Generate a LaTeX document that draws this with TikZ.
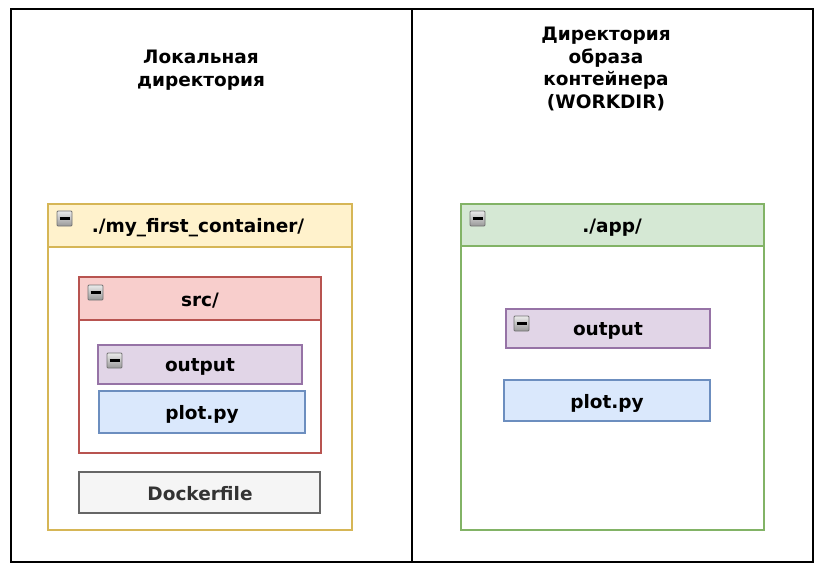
\documentclass[tikz,border=0pt]{standalone}
\usepackage{fontspec}
\setmainfont{DejaVu Sans}
\begin{document}
\begin{tikzpicture}[x=1pt,y=-1pt,
  lbl/.style={font=\bfseries\fontsize{18.5}{22.7}\selectfont,text=black,align=center},
  outerbox/.style={draw=black,line width=1.6pt},
  cont/.style={line width=1.5pt},
  leaf/.style={line width=1.5pt},
  yel/.style={fill=yelF,draw=yelD},
  red/.style={fill=redF,draw=redD},
  pur/.style={fill=purF,draw=purD},
  blu/.style={fill=bluF,draw=bluD},
  gre/.style={fill=greF,draw=greD},
  gry/.style={fill=gryF,draw=gryD}
]
\definecolor{yelF}{HTML}{FFF2CC}\definecolor{yelD}{HTML}{D6B656}
\definecolor{redF}{HTML}{F8CECC}\definecolor{redD}{HTML}{B85450}
\definecolor{purF}{HTML}{E1D5E7}\definecolor{purD}{HTML}{9673A6}
\definecolor{bluF}{HTML}{DAE8FC}\definecolor{bluD}{HTML}{6C8EBF}
\definecolor{greF}{HTML}{D5E8D4}\definecolor{greD}{HTML}{82B366}
\definecolor{gryF}{HTML}{F5F5F5}\definecolor{gryD}{HTML}{666666}
\definecolor{txtG}{HTML}{333333}
\newcommand{\collicon}[2]{%
  \shade[top color=black!8,bottom color=black!40,draw=black!55,line width=0.8pt,rounded corners=1pt] (#1,#2) rectangle ++(15,15);
  \draw[line width=2.2pt,black] (#1+2.5,#2+7.5) -- (#1+12.5,#2+7.5);}
\useasboundingbox (0,0) rectangle (826,585);
\fill[white] (0,0) rectangle (826,585);
% outer boxes
\draw[outerbox] (11,9) rectangle (412,562);
\draw[outerbox] (412,9) rectangle (813,562);
\node[lbl] (tl) at (201,70) {Локальная\\директория};
\node[lbl] (tr) at (606,69) {Директория\\образа\\контейнера\\(WORKDIR)};
% yellow container
\draw[cont,draw=yelD,fill=white] (48,204) rectangle (352,530);
\draw[cont,yel] (48,204) rectangle (352,247);
\node[lbl] (mfc) at (198,228) {./my\_first\_container/};
\collicon{57}{211}
% red src
\draw[cont,draw=redD,fill=white] (79,277) rectangle (321,453);
\draw[cont,red] (79,277) rectangle (321,320);
\node[lbl] (src) at (200,301) {src/};
\collicon{88}{285}
% output left
\draw[leaf,pur] (98,345) rectangle (302,384);
\node[lbl] (outl) at (200,367) {output};
\collicon{107}{353}
% plot left
\draw[leaf,blu] (99,391) rectangle (305,433);
\node[lbl] (plotl) at (202,414) {plot.py};
% dockerfile
\draw[leaf,gry] (79,472) rectangle (320,513);
\node[lbl,text=txtG] (dock) at (200,494) {Dockerfile};
% green app
\draw[cont,draw=greD,fill=white] (461,204) rectangle (764,530);
\draw[cont,gre] (461,204) rectangle (764,246);
\node[lbl] (app) at (612,228) {./app/};
\collicon{470}{211}
% output right
\draw[leaf,pur] (506,309) rectangle (710,348);
\node[lbl] (outr) at (608,331) {output};
\collicon{514}{316}
% plot right
\draw[leaf,blu] (504,380) rectangle (710,421);
\node[lbl] (plotr) at (607,403) {plot.py};
\end{tikzpicture}
\end{document}
